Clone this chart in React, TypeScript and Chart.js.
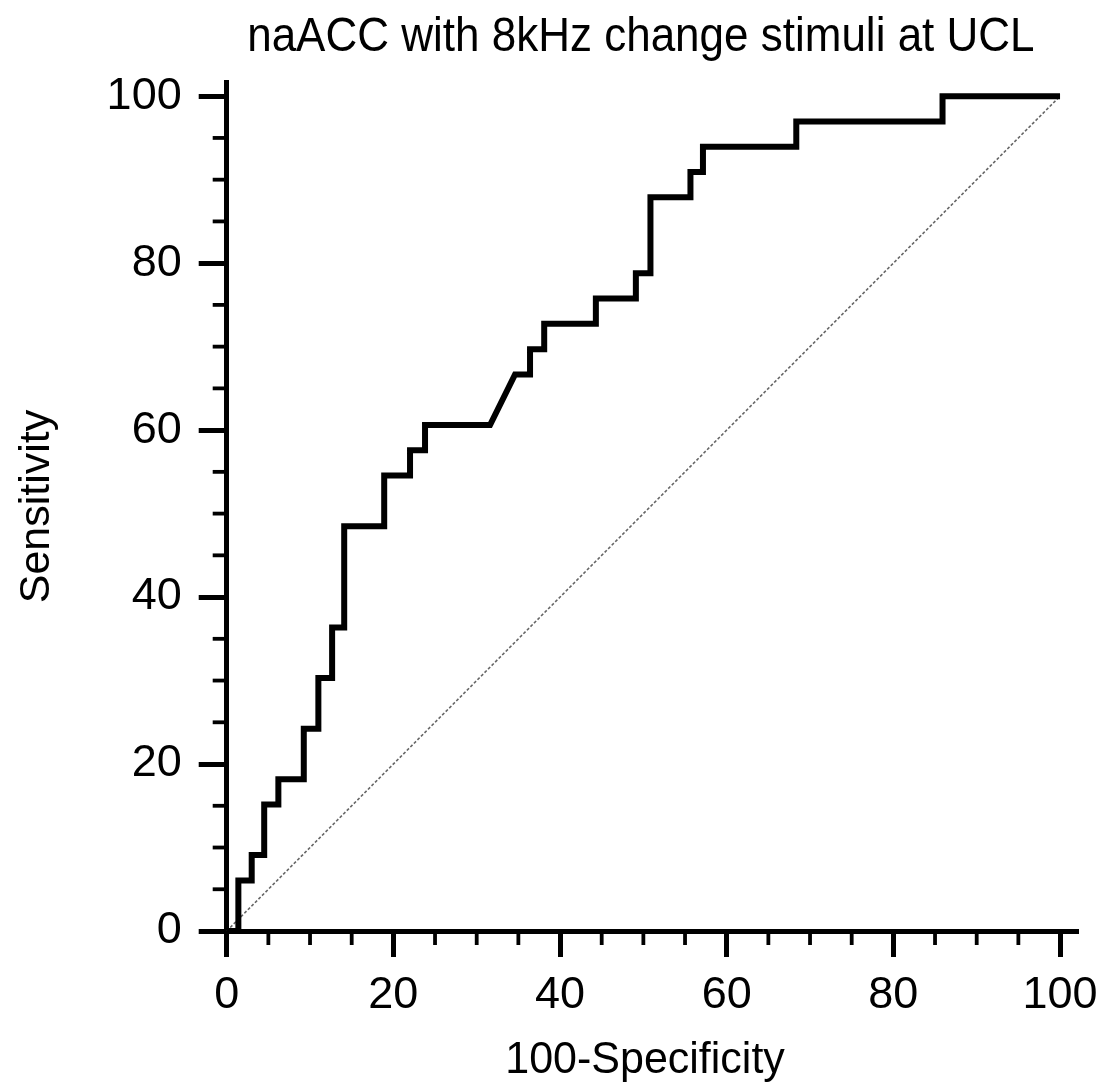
import React, { useEffect, useRef } from "react";
import { Chart, registerables } from "chart.js";

Chart.register(...registerables);

const chartTitle = "naACC with 8kHz change stimuli at UCL";
const xTitle = "100-Specificity";
const yTitle = "Sensitivity";

// ROC curve vertices: 100-Specificity (x) and Sensitivity (y)
const rocX = [0, 1.4, 1.4, 3.0, 3.0, 4.5, 4.5, 6.2, 6.2, 9.25, 9.25, 11.0, 11.0, 12.65, 12.65, 14.1, 14.1, 18.9, 18.9, 22.0, 22.0, 23.8, 23.8, 31.6, 34.6, 36.4, 36.4, 38.1, 38.1, 44.3, 44.3, 49.1, 49.1, 50.85, 50.85, 55.65, 55.65, 57.15, 57.15, 68.35, 68.35, 85.9, 85.9, 100];
const rocY = [0, 0, 6.06, 6.06, 9.09, 9.09, 15.15, 15.15, 18.18, 18.18, 24.24, 24.24, 30.3, 30.3, 36.36, 36.36, 48.48, 48.48, 54.55, 54.55, 57.58, 57.58, 60.61, 60.61, 66.67, 66.67, 69.7, 69.7, 72.73, 72.73, 75.76, 75.76, 78.79, 78.79, 87.88, 87.88, 90.91, 90.91, 93.94, 93.94, 96.97, 96.97, 100, 100];

// reference (chance) line
const refX = [0, 100];
const refY = [0, 100];

const majorTicks = [0, 20, 40, 60, 80, 100];
const minorTicks = [5, 10, 15, 25, 30, 35, 45, 50, 55, 65, 70, 75, 85, 90, 95];

const FONT = "'Liberation Sans', Arial, sans-serif";

export default function App() {
  const ref = useRef<HTMLCanvasElement>(null);

  useEffect(() => {
    document.body.style.margin = "0";
    const canvas = ref.current;
    if (!canvas) return;

    const decor = {
      id: "decor",
      afterDraw(chart: any) {
        const ctx = chart.ctx;
        const xs = chart.scales.x;
        const ys = chart.scales.y;
        const area = chart.chartArea;
        ctx.save();
        ctx.strokeStyle = "#000";
        ctx.lineWidth = 3.8;
        ctx.lineCap = "butt";
        for (const v of minorTicks) {
          const px = xs.getPixelForValue(v);
          ctx.beginPath();
          ctx.moveTo(px, area.bottom);
          ctx.lineTo(px, area.bottom + 14);
          ctx.stroke();
          const py = ys.getPixelForValue(v);
          ctx.beginPath();
          ctx.moveTo(area.left, py);
          ctx.lineTo(area.left - 14, py);
          ctx.stroke();
        }
        ctx.fillStyle = "#000";
        ctx.textAlign = "center";
        ctx.textBaseline = "alphabetic";
        ctx.font = `44px ${FONT}`;
        ctx.save();
        ctx.translate(xs.getPixelForValue(49.7), 51);
        ctx.scale(1, 1.08);
        ctx.fillText(chartTitle, 0, 0);
        ctx.restore();
        ctx.font = `43px ${FONT}`;
        ctx.save();
        ctx.translate(xs.getPixelForValue(50.2), 1073);
        ctx.scale(1, 1.05);
        ctx.fillText(xTitle, 0, 0);
        ctx.restore();
        ctx.translate(49, (area.top + area.bottom) / 2);
        ctx.rotate(-Math.PI / 2);
        ctx.fillText(yTitle, 0, 0);
        ctx.restore();
      },
    };

    const chart = new Chart(canvas, {
      type: "line",
      data: {
        datasets: [
          {
            data: rocX.map((x, i) => ({ x, y: rocY[i] })),
            borderColor: "#000",
            borderWidth: 6,
            pointRadius: 0,
            tension: 0,
            fill: false,
            borderJoinStyle: "miter",
            borderCapStyle: "butt",
            clip: false as any,
          },
          {
            data: refX.map((x, i) => ({ x, y: refY[i] })),
            borderColor: "#666",
            borderWidth: 1.6,
            borderDash: [3, 2],
            pointRadius: 0,
            tension: 0,
            fill: false,
          },
        ],
      },
      options: {
        responsive: false,
        animation: false,
        devicePixelRatio: 1,
        layout: { padding: { left: 0, top: 82, right: 37.3, bottom: 0 } },
        plugins: {
          legend: { display: false },
          tooltip: { enabled: false },
          title: { display: false },
        },
        scales: {
          x: {
            type: "linear",
            min: 0,
            max: 102,
            afterBuildTicks: (s: any) => {
              s.ticks = majorTicks.map((v) => ({ value: v }));
            },
            afterFit: (s: any) => {
              s.height = 153;
            },
            grid: {
              display: true,
              drawOnChartArea: false,
              drawTicks: true,
              tickLength: 26,
              lineWidth: 5,
              color: "#000",
            },
            border: { display: true, width: 5, color: "#000" },
            ticks: {
              autoSkip: false,
              maxRotation: 0,
              padding: 12,
              color: "#000",
              font: { family: FONT, size: 45 },
              callback: (v: any) => String(v),
            },
          },
          y: {
            type: "linear",
            min: 0,
            max: 101.7,
            afterBuildTicks: (s: any) => {
              s.ticks = majorTicks.map((v) => ({ value: v }));
            },
            afterFit: (s: any) => {
              s.width = 226.7;
            },
            grid: {
              display: true,
              drawOnChartArea: false,
              drawTicks: true,
              tickLength: 28,
              lineWidth: 5,
              color: "#000",
            },
            border: { display: true, width: 5, color: "#000" },
            ticks: {
              autoSkip: false,
              padding: 17,
              color: "#000",
              font: { family: FONT, size: 45 },
              callback: (v: any) => String(v),
            },
          },
        },
      },
      plugins: [decor],
    } as any);

    return () => chart.destroy();
  }, []);

  return (
    <div style={{ position: "relative", width: 1114, height: 1084, background: "#fff" }}>
      <canvas ref={ref} width={1114} height={1084} style={{ display: "block", position: "absolute", left: 0, top: 0 }} />
    </div>
  );
}
